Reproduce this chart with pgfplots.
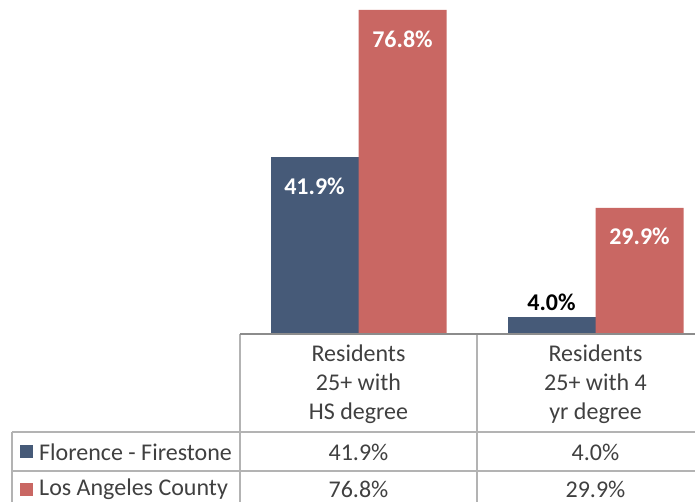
\documentclass[border=0pt]{standalone}
\usepackage{fontspec}
\setmainfont{Carlito}
\usepackage{pgfplots}
\pgfplotsset{compat=1.18}
\definecolor{ffblue}{HTML}{465A78}
\definecolor{lared}{HTML}{C96763}
\definecolor{gridg}{HTML}{B3B3B3}
\definecolor{axisg}{HTML}{8C8C8C}
\definecolor{txtg}{HTML}{404040}
\newcommand{\tfont}{\fontsize{24pt}{29pt}\selectfont}
\begin{document}
\begin{tikzpicture}
\useasboundingbox (0,0) rectangle (695pt,502pt);
\clip (0,0) rectangle (695pt,502pt);
\begin{axis}[
  at={(240pt,168pt)}, anchor=south west,
  scale only axis, width=474pt, height=334pt,
  xmin=-0.5, xmax=1.5, ymin=0, ymax=79.15,
  axis lines=none, clip=false,
  /pgf/number format/assume math mode=true,
  every node near coord/.append style={font=\bfseries\fontsize{24pt}{28pt}\selectfont},
]
\addplot[ybar, bar width=88pt, bar shift=-44pt, fill=ffblue, draw=none,
  nodes near coords={\pgfmathprintnumber[fixed,fixed zerofill,precision=1]{\pgfplotspointmeta}\%},
  every node near coord/.append style={text=white, anchor=center, xshift=-44pt, yshift=-29pt}]
  coordinates {(0,41.9)};
\addplot[ybar, bar width=88pt, bar shift=-44pt, fill=ffblue, draw=none,
  nodes near coords={\pgfmathprintnumber[fixed,fixed zerofill,precision=1]{\pgfplotspointmeta}\%},
  every node near coord/.append style={text=black, anchor=center, xshift=-44pt, yshift=15pt}]
  coordinates {(1,4.0)};
\addplot[ybar, bar width=88pt, bar shift=44pt, fill=lared, draw=none,
  nodes near coords={\pgfmathprintnumber[fixed,fixed zerofill,precision=1]{\pgfplotspointmeta}\%},
  every node near coord/.append style={text=white, anchor=center, xshift=44pt, yshift=-29pt}]
  coordinates {(0,76.8) (1,29.9)};
\end{axis}
% data table grid
\draw[gridg, line width=1.5pt] (240pt,168pt) -- (240pt,0pt);
\draw[gridg, line width=1.5pt] (477pt,168pt) -- (477pt,0pt);
\draw[gridg, line width=1.5pt] (714pt,168pt) -- (714pt,0pt);
\draw[gridg, line width=1.5pt] (12pt,70pt) -- (714pt,70pt);
\draw[gridg, line width=1.5pt] (12pt,31pt) -- (714pt,31pt);
\draw[gridg, line width=1.5pt] (12pt,70pt) -- (12pt,-10pt);
\draw[gridg, line width=1.5pt] (12pt,-8pt) -- (714pt,-8pt);
\draw[axisg, line width=1.5pt] (240pt,168pt) -- (714pt,168pt);
% header
\node[text=txtg, align=center, font=\tfont] at (358.5pt,118pt) {Residents\\25+ with\\HS degree};
\node[text=txtg, align=center, font=\tfont] at (595.5pt,118pt) {Residents\\25+ with 4\\yr degree};
% rows
\node[text=txtg, font=\tfont] at (358.5pt,50pt) {41.9\%};
\node[text=txtg, font=\tfont] at (595.5pt,50pt) {4.0\%};
\node[text=txtg, font=\tfont] at (358.5pt,13pt) {76.8\%};
\node[text=txtg, font=\tfont] at (595.5pt,13pt) {29.9\%};
\fill[ffblue] (20pt,44pt) rectangle (33pt,57pt);
\fill[lared] (20pt,6pt) rectangle (33pt,19pt);
\node[text=txtg, font=\tfont, anchor=west, inner sep=0pt] at (39pt,50pt) {Florence - Firestone};
\node[text=txtg, font=\tfont, anchor=west, inner sep=0pt] at (39pt,13pt) {Los Angeles County};
\end{tikzpicture}
\end{document}
